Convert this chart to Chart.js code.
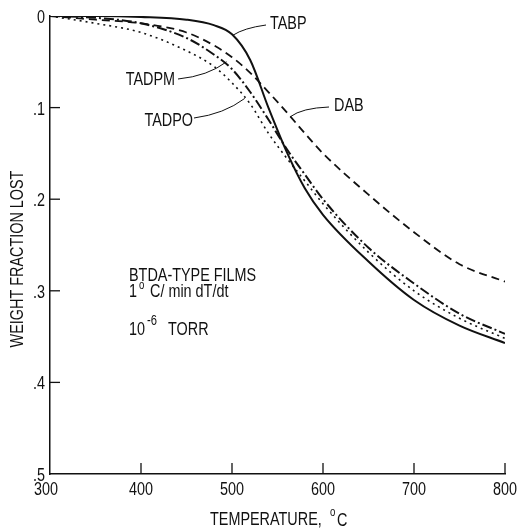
<!DOCTYPE html>
<html>
<head>
<meta charset="utf-8">
<script src="https://cdn.jsdelivr.net/npm/chart.js@4.4.0/dist/chart.umd.min.js"></script>
<style>
  html, body { margin: 0; padding: 0; background: #fff; }
  #wrap { width: 519px; height: 531px; }
</style>
</head>
<body>
<div id="wrap"><canvas id="tgaChart" width="519" height="531"></canvas></div>
<script>
// temperatures, deg C
const temps = [300, 350, 400, 450, 480, 500, 520, 540, 560, 580, 600, 650, 700, 750, 800];

// weight fraction lost
const tabp  = [0, 0, 0.001, 0.004, 0.010, 0.020, 0.048, 0.100, 0.148, 0.188, 0.217, 0.268, 0.310, 0.338, 0.357];
const dab   = [0, 0.004, 0.008, 0.018, 0.032, 0.045, 0.062, 0.083, 0.105, 0.128, 0.150, 0.195, 0.236, 0.271, 0.290];
const tadpm = [0, 0.002, 0.008, 0.024, 0.042, 0.058, 0.083, 0.113, 0.145, 0.173, 0.200, 0.253, 0.292, 0.325, 0.347];
const tadpo = [0, 0.008, 0.018, 0.038, 0.055, 0.073, 0.096, 0.128, 0.155, 0.180, 0.205, 0.258, 0.300, 0.330, 0.352];

const xTicks = [300, 400, 500, 600, 700, 800];
const yTicks = [0, 0.1, 0.2, 0.3, 0.4, 0.5];

const FONT = "'Liberation Sans', Arial, sans-serif";
const INK = '#111';
const SQ = 0.8; // horizontal squeeze, the original lettering is condensed

function pts(vals) {
  return temps.map((t, i) => ({ x: t, y: vals[i] }));
}

function line(label, vals, dash, width) {
  return {
    label: label,
    data: pts(vals),
    borderColor: INK,
    borderWidth: width,
    borderDash: dash,
    pointRadius: 0,
    fill: false,
    cubicInterpolationMode: 'monotone'
  };
}

function txt(ctx, s, x, y, align, size, rot) {
  ctx.save();
  ctx.font = size + 'px ' + FONT;
  ctx.textAlign = align;
  ctx.textBaseline = 'middle';
  ctx.translate(x, y);
  if (rot) ctx.rotate(rot);
  ctx.scale(SQ, 1);
  ctx.fillText(s, 0, 0);
  ctx.restore();
}

const yLabel = v => v === 0 ? '0' : String(Math.round(v * 10) / 10).replace(/^0/, '');

// inward ticks, tick labels, curve labels, film conditions
const annotate = {
  id: 'annotate',
  afterDraw(chart) {
    const { ctx, scales } = chart;
    const xs = scales.x, ys = scales.y;
    const px = v => xs.getPixelForValue(v);
    const py = v => ys.getPixelForValue(v);

    ctx.save();
    ctx.strokeStyle = INK;
    ctx.fillStyle = INK;
    ctx.lineWidth = 1.3;
    xTicks.forEach(t => {
      if (t !== 300) {
        ctx.beginPath();
        ctx.moveTo(px(t), py(0.5));
        ctx.lineTo(px(t), py(0.5) - 11);
        ctx.stroke();
      }
      txt(ctx, String(t), px(t) - (t === 300 ? 4 : 0), py(0.5) + 16, 'center', 18);
    });
    yTicks.forEach(t => {
      if (t !== 0 && t !== 0.5) {
        ctx.beginPath();
        ctx.moveTo(px(300), py(t));
        ctx.lineTo(px(300) + 10, py(t));
        ctx.stroke();
      }
      txt(ctx, yLabel(t), px(300) - 5, py(t) + 2, 'right', 18);
    });

    // axis titles
    txt(ctx, 'TEMPERATURE,', 210, 520, 'left', 18);
    txt(ctx, 'o', 330, 513, 'left', 12);
    txt(ctx, 'C', 337, 521, 'left', 18);
    txt(ctx, 'WEIGHT FRACTION LOST', 18, 259, 'center', 18, -Math.PI / 2);

    // leader lines from labels to curves
    ctx.lineWidth = 1;
    const leader = (x0, y0, cx, cy, x1, y1) => {
      ctx.beginPath();
      ctx.moveTo(x0, y0);
      ctx.quadraticCurveTo(cx, cy, x1, y1);
      ctx.stroke();
    };
    leader(266, 25, 244, 28, px(501), py(0.021));
    leader(178, 79, 208, 76, px(494), py(0.05));
    leader(194, 118, 224, 114, px(514), py(0.09));
    leader(329, 107, 302, 108, px(564), py(0.11));

    txt(ctx, 'TABP', 270, 24, 'left', 18);
    txt(ctx, 'TADPM', 175, 80, 'right', 18);
    txt(ctx, 'TADPO', 193, 121, 'right', 18);
    txt(ctx, 'DAB', 334, 106, 'left', 18);

    txt(ctx, 'BTDA-TYPE FILMS', 129, 276, 'left', 18);
    txt(ctx, '1', 129, 292, 'left', 18);
    txt(ctx, 'o', 139, 286, 'left', 12);
    txt(ctx, 'C/ min dT/dt', 150, 292, 'left', 18);
    txt(ctx, '10', 129, 330, 'left', 18);
    txt(ctx, '-6', 147, 321, 'left', 14);
    txt(ctx, 'TORR', 168, 330, 'left', 18);
    ctx.restore();
  }
};

const ctx = document.getElementById('tgaChart').getContext('2d');
const tgaChart = new Chart(ctx, {
  type: 'line',
  data: {
    datasets: [
      line('TABP', tabp, [], 2),
      line('DAB', dab, [8, 5], 1.8),
      line('TADPM', tadpm, [10, 3, 2, 3], 2),
      line('TADPO', tadpo, [2, 4], 1.6)
    ]
  },
  options: {
    responsive: false,
    animation: false,
    layout: { padding: { top: 16, right: 14, left: 0, bottom: 0 } },
    plugins: {
      legend: { display: false },
      tooltip: { enabled: false }
    },
    scales: {
      x: {
        type: 'linear',
        min: 300,
        max: 800,
        afterBuildTicks: s => { s.ticks = xTicks.map(v => ({ value: v })); },
        afterFit: s => { s.height = 57; },
        grid: { display: false, drawTicks: false },
        border: { display: true, color: INK, width: 1.5 },
        ticks: { display: false }
      },
      y: {
        type: 'linear',
        reverse: true,
        min: 0,
        max: 0.5,
        afterBuildTicks: s => { s.ticks = yTicks.map(v => ({ value: v })); },
        afterFit: s => { s.width = 50; },
        grid: { display: false, drawTicks: false },
        border: { display: true, color: INK, width: 1.5 },
        ticks: { display: false }
      }
    }
  },
  plugins: [annotate]
});
</script>
</body>
</html>
